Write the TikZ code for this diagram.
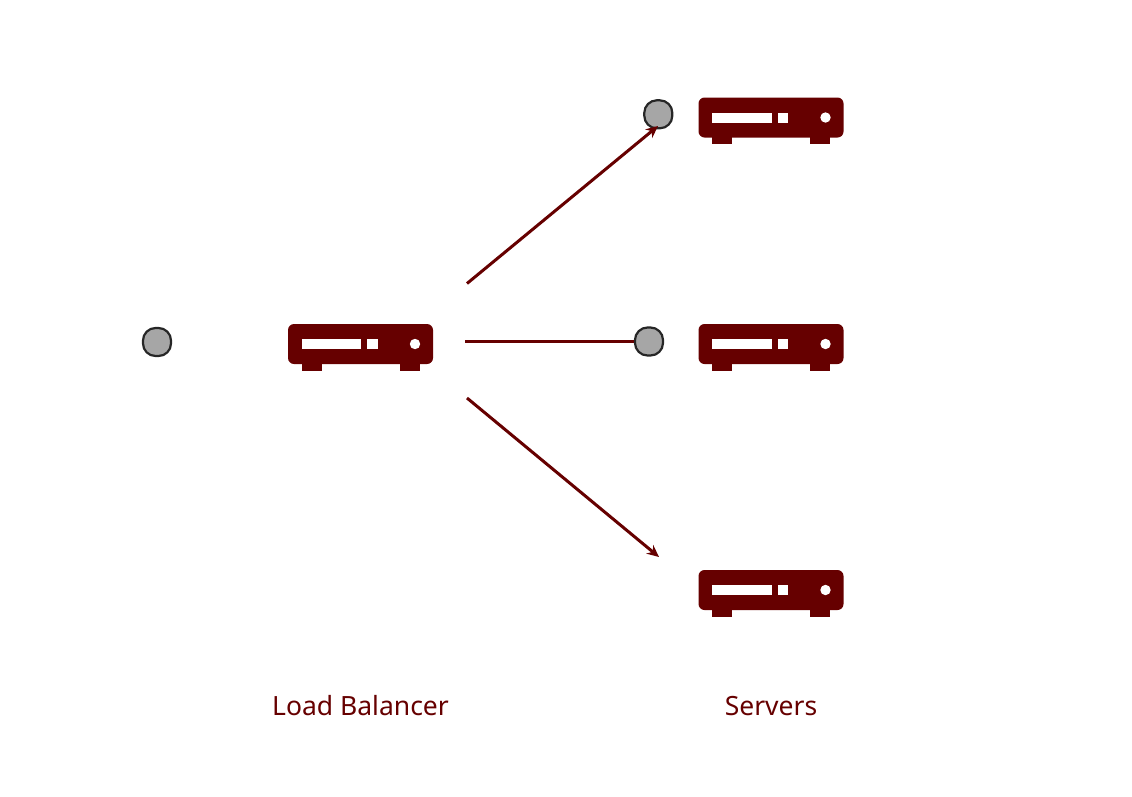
\documentclass[tikz,border=0pt]{standalone}
\usepackage{fontspec}
\setmainfont{Noto Sans}
\usetikzlibrary{positioning, arrows.meta}
\definecolor{boxred}{HTML}{660000}
\definecolor{dotgray}{HTML}{A6A6A6}
\tikzset{
        x=1pt, y=-1pt,
        flow/.style={-{Stealth[length=12pt,width=11pt]}, line width=3pt, color=boxred}, % connectors
        packet/.style={draw=black!85, fill=dotgray, line width=2.2pt, minimum size=28pt, inner sep=0pt, rounded corners=12.5pt}, % grey dots
        caption/.style={text=boxred, font=\fontsize{26.5}{30}\selectfont},
        server/.pic={
            \node[fill=boxred, minimum width=145pt, minimum height=40pt, inner sep=0pt, rounded corners=6pt] (-body) at (0,0) {};
            \fill[boxred] (-59,19) rectangle (-39,26.5);
            \fill[boxred] (39,19) rectangle (59,26.5);
            \fill[white] (-59,-5) rectangle (0.5,5);
            \fill[white] (6.5,-5) rectangle (17,5);
            \fill[white] (54.5,0) circle (5.2);
        },
    }

\begin{document}
\begin{tikzpicture}
    \useasboundingbox (0,0) rectangle (1132,796);
    \pic (lb) at (360.5,344) {server};
    \pic (srva) at (771,117.5) {server};
    \pic (srvb) at (771,344) {server};
    \pic (srvc) at (771,590) {server};
    \node[caption] (lblb) at (360.5,706) {Load Balancer};
    \node[caption] (lbsrv) at (771,706) {Servers};
    % arrow ends
    \coordinate (outa) at (467,283.5);
    \coordinate (outb) at (465,341.5);
    \coordinate (outc) at (467,398);
    \coordinate (ina) at (658,126);
    \coordinate (inc) at (659,557);
    \node[packet] (dotlb) at (157,342) {};
    \node[packet] (dota) at (658.3,114.3) {};
    \node[packet] (dotb) at (649,341.5) {};
    \draw[flow] (outa) -- (ina);
    \draw[flow, -] (outb) -- (dotb);
    \draw[flow] (outc) -- (inc);
  \end{tikzpicture}
\end{document}
